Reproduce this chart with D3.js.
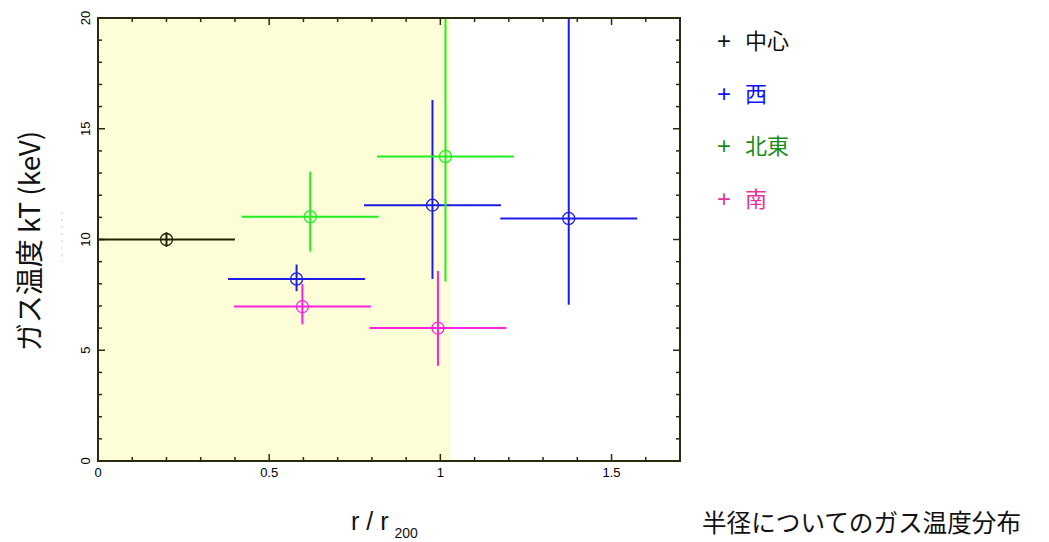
<!DOCTYPE html>
<html>
<head>
<meta charset="utf-8">
<script src="https://cdn.jsdelivr.net/npm/d3@7"></script>
<style>
  body { margin: 0; background: #fff; }
  svg text { font-family: "Liberation Sans", Arial, sans-serif; }
  .jp { font-family: "Noto Sans CJK JP", "Noto Sans", sans-serif; }
</style>
</head>
<body>
<svg id="chart" width="1049" height="542"></svg>
<script>
// series (legend order)
var seriesNames  = ['中心', '西', '北東', '南'];
var seriesColors = ['#222200', '#1c1ce8', '#22ee22', '#ff22dd'];
var legendColors = ['#111111', '#1010ff', '#1a8c1a', '#e0349c'];

// data points: which series, r/r200, half width, kT, upper and lower error
var pointSeries = ['中心', '西', '西', '西', '北東', '北東', '南', '南'];
var pointR      = [0.2, 0.58, 0.977, 1.375, 0.62, 1.015, 0.597, 0.993];
var pointRErr   = [0.2, 0.2, 0.2, 0.2, 0.2, 0.2, 0.2, 0.2];
var pointKT     = [10.0, 8.22, 11.55, 10.95, 11.03, 13.75, 6.97, 6.0];
var pointKTUp   = [0.33, 0.65, 4.75, 9.5, 2.03, 7.0, 1.02, 2.58];
var pointKTDown = [0.33, 0.55, 3.33, 3.9, 1.58, 5.65, 0.8, 1.7];

// shaded range and axis ticks
var shadeRange  = [0, 1.03];
var xTickLabels = [0, 0.5, 1, 1.5];
var yTickLabels = [0, 5, 10, 15, 20];

var svg = d3.select('#chart');
var plotLeft = 98, plotRight = 680, plotTop = 18, plotBottom = 461;

var x = d3.scaleLinear().domain([0, 1.7]).range([plotLeft, plotRight]);
var y = d3.scaleLinear().domain([0, 20]).range([plotBottom, plotTop]);
var color = d3.scaleOrdinal().domain(seriesNames).range(seriesColors);

svg.append('clipPath').attr('id', 'plot-clip')
  .append('rect')
  .attr('x', plotLeft).attr('y', plotTop)
  .attr('width', plotRight - plotLeft).attr('height', plotBottom - plotTop);

// shaded region
svg.append('rect')
  .attr('x', x(shadeRange[0])).attr('y', plotTop)
  .attr('width', x(shadeRange[1]) - x(shadeRange[0]))
  .attr('height', plotBottom - plotTop)
  .attr('fill', '#fdfdd8');

// ticks (inward on all four sides)
var axisColor = '#2a2a10';
var ticks = svg.append('g').attr('stroke', axisColor).attr('stroke-width', 1.5);
d3.range(0, 1.71, 0.1).forEach(function(v) {
  var major = Math.abs(v * 2 - Math.round(v * 2)) < 1e-6;
  var len = major ? 7 : 4;
  ticks.append('line').attr('x1', x(v)).attr('x2', x(v)).attr('y1', plotBottom).attr('y2', plotBottom - len);
  ticks.append('line').attr('x1', x(v)).attr('x2', x(v)).attr('y1', plotTop).attr('y2', plotTop + len);
});
d3.range(0, 21, 1).forEach(function(v) {
  var len = v % 5 === 0 ? 7 : 4;
  ticks.append('line').attr('x1', plotLeft).attr('x2', plotLeft + len).attr('y1', y(v)).attr('y2', y(v));
  ticks.append('line').attr('x1', plotRight).attr('x2', plotRight - len).attr('y1', y(v)).attr('y2', y(v));
});

// tick labels
svg.append('g').selectAll('text').data(xTickLabels).join('text')
  .attr('x', function(d) { return x(d); })
  .attr('y', 477)
  .attr('text-anchor', 'middle')
  .attr('font-size', 13)
  .text(function(d) { return d; });

svg.append('g').selectAll('text').data(yTickLabels).join('text')
  .attr('transform', function(d) { return 'translate(90,' + y(d) + ') rotate(-90)'; })
  .attr('text-anchor', 'middle')
  .attr('font-size', 13)
  .text(function(d) { return d; });

// error bars and circles
var marks = svg.append('g').attr('clip-path', 'url(#plot-clip)');
pointR.forEach(function(r, i) {
  var c = color(pointSeries[i]);
  var g = marks.append('g').attr('stroke', c).attr('stroke-width', 2).attr('fill', 'none');
  g.append('line')
    .attr('x1', x(r - pointRErr[i])).attr('x2', x(r + pointRErr[i]))
    .attr('y1', y(pointKT[i])).attr('y2', y(pointKT[i]));
  g.append('line')
    .attr('x1', x(r)).attr('x2', x(r))
    .attr('y1', y(pointKT[i] + pointKTUp[i])).attr('y2', y(pointKT[i] - pointKTDown[i]));
  g.append('circle')
    .attr('cx', x(r)).attr('cy', y(pointKT[i])).attr('r', 6)
    .attr('stroke-width', 1.3);
});

// frame
svg.append('rect')
  .attr('x', plotLeft).attr('y', plotTop)
  .attr('width', plotRight - plotLeft).attr('height', plotBottom - plotTop)
  .attr('fill', 'none').attr('stroke', axisColor).attr('stroke-width', 2);

// legend
var legend = svg.append('g').selectAll('g').data(seriesNames).join('g')
  .attr('transform', function(d, i) { return 'translate(718,' + (41 + i * 52.5) + ')'; });
legend.append('text')
  .attr('x', 6).attr('y', 8)
  .attr('text-anchor', 'middle')
  .attr('font-size', 24)
  .attr('fill', function(d, i) { return legendColors[i]; })
  .text('+');
legend.append('text')
  .attr('class', 'jp')
  .attr('x', 27).attr('y', 8)
  .attr('font-size', 22)
  .attr('fill', function(d, i) { return legendColors[i]; })
  .text(function(d) { return d; });

// axis titles
svg.append('text')
  .attr('class', 'jp')
  .attr('transform', 'translate(40,241) rotate(-90)')
  .attr('text-anchor', 'middle')
  .attr('font-size', 28)
  .attr('fill', '#111')
  .text('ガス温度 kT (keV)');

// faint leftover mark next to the y title
svg.append('line')
  .attr('x1', 62).attr('x2', 62).attr('y1', 212).attr('y2', 262)
  .attr('stroke', '#c8c8c8').attr('stroke-width', 1)
  .attr('stroke-dasharray', '2,5');

var xt = svg.append('text')
  .attr('x', 351).attr('y', 530)
  .attr('font-size', 25)
  .attr('fill', '#111');
xt.append('tspan').text('r / r');
xt.append('tspan').attr('font-size', 14).attr('dx', 6).attr('dy', 8).text('200');

svg.append('text')
  .attr('class', 'jp')
  .attr('x', 702).attr('y', 532)
  .attr('font-size', 24.6)
  .attr('fill', '#111')
  .text('半径についてのガス温度分布');
</script>
</body>
</html>
